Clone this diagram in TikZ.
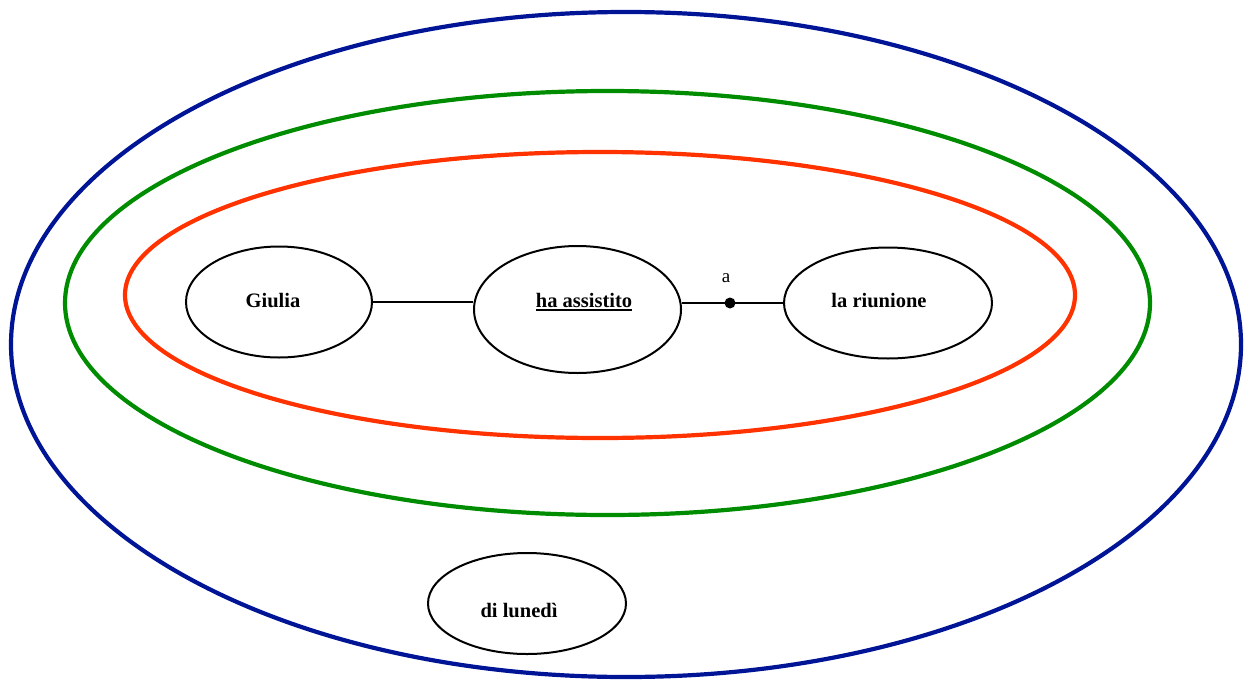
\documentclass[tikz,border=0pt]{standalone}
\usepackage{fontspec}
\setmainfont{Liberation Serif}
\usetikzlibrary{shapes.geometric}
\definecolor{bluering}{RGB}{0,20,150}
\definecolor{greenring}{RGB}{0,140,0}
\definecolor{redring}{RGB}{255,50,0}
\tikzset{
  ring/.style={line width=4.2pt},
  oval/.style={draw=black, line width=2pt, ellipse, inner sep=0pt},
  word/.style={font=\fontsize{20.5}{24}\selectfont\bfseries, inner sep=0pt},
  conn/.style={draw=black, line width=2pt}
}
\newcommand{\thickunder}[1]{\setbox0\hbox{#1}\rlap{\raisebox{-4pt}{\rule{\wd0}{1.8pt}}}\box0}
\begin{document}
\begin{tikzpicture}[x=1pt,y=-1pt]
\useasboundingbox (0,0) rectangle (1244,680);
\draw[ring, draw=bluering] (626,344.5) ellipse [x radius=615, y radius=332.5];
\draw[ring, draw=greenring] (607.5,303) ellipse [x radius=542.5, y radius=212];
\draw[ring, draw=redring] (600,295) ellipse [x radius=475, y radius=143];

\node[oval, minimum width=186pt, minimum height=111pt] (giulia) at (279,302) {};
\node[oval, minimum width=207pt, minimum height=127pt] (assistito) at (577.5,309.5) {};
\node[oval, minimum width=208pt, minimum height=111pt] (riunione) at (888,303) {};
\node[oval, minimum width=198pt, minimum height=101pt] (lunedi) at (527,603.5) {};

\node[word] (tgiulia) at (273,301) {Giulia};
\node[word] (tassistito) at (584,302) {\thickunder{ha assistito}};
\node[word] (triunione) at (879,301) {la riunione};
\node[word] (tlunedi) at (519,610) {di lunedì};

\coordinate (dot) at (730,303);
\draw[conn] (giulia.east) -- (assistito.west |- giulia.east);
\draw[conn] (assistito.east |- dot) -- (dot) -- (riunione.west |- dot);
\fill[black] (dot) circle (5.5pt);
\node[font=\fontsize{19}{22}\selectfont, inner sep=0pt] (alabel) at (726,278) {a};
\end{tikzpicture}
\end{document}
